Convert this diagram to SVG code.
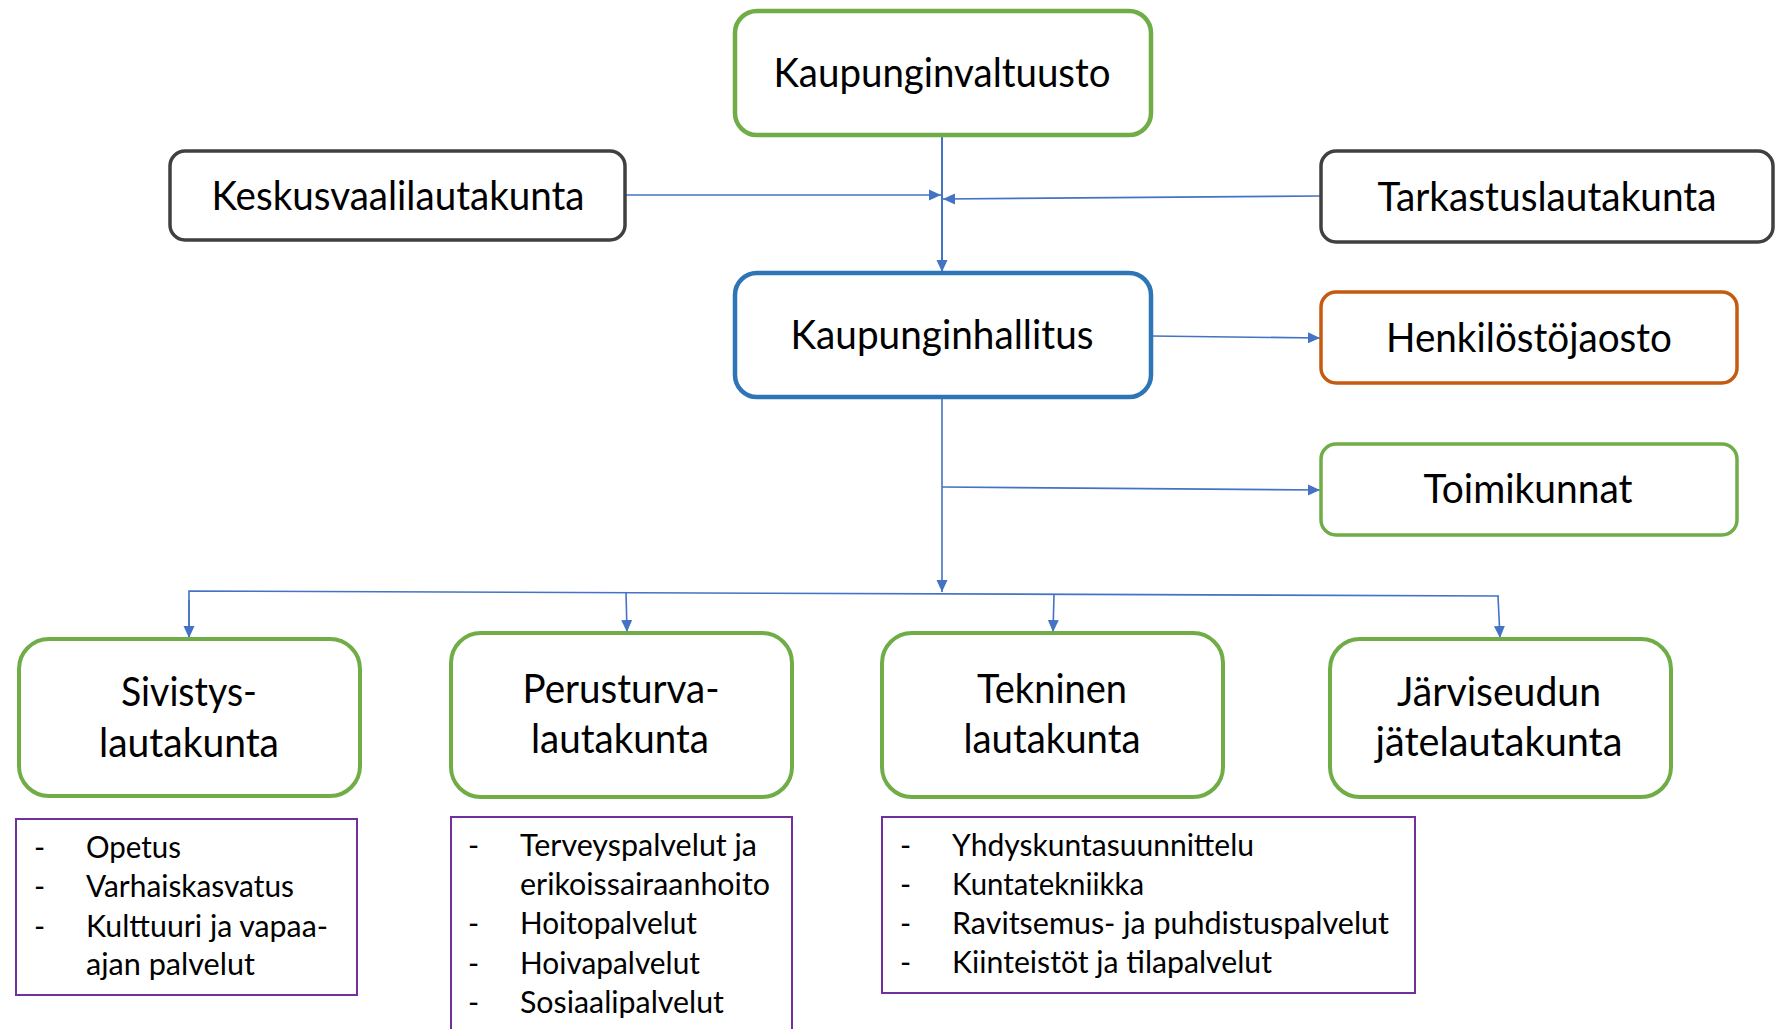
<svg xmlns="http://www.w3.org/2000/svg" width="1776" height="1029" viewBox="0 0 1776 1029">
<style>
.lbl{font-family:Lato,"Liberation Sans",sans-serif;font-size:40px;fill:#000;text-anchor:middle}
.li{font-family:Lato,"Liberation Sans",sans-serif;font-size:30px;fill:#000}
.box{fill:#fff}
.green{stroke:#70AD47;stroke-width:4}
.dark{stroke:#404040;stroke-width:3.5}
.blue{stroke:#2E75B6;stroke-width:4.5}
.orange{stroke:#C55A11;stroke-width:3.5}
.purple{fill:#fff;stroke:#7030A0;stroke-width:2}
.con{fill:none;stroke:#4472C4;stroke-width:1.6}
</style>
<defs>
<marker id="arr" viewBox="0 0 12 12" refX="12" refY="6" markerWidth="12" markerHeight="12" markerUnits="userSpaceOnUse" orient="auto">
<path d="M0,0.5 L12,6 L0,11.5 z" fill="#4472C4"/>
</marker>
</defs>
<rect width="1776" height="1029" fill="#fff"/>

<g id="connectors">
<line class="con" x1="942" y1="135" x2="942" y2="272" style="stroke-width:2" marker-end="url(#arr)"/>
<line class="con" x1="625" y1="195" x2="941" y2="195" marker-end="url(#arr)"/>
<line class="con" x1="1321" y1="196" x2="943" y2="199" marker-end="url(#arr)"/>
<line class="con" x1="1151" y1="336" x2="1320" y2="338" marker-end="url(#arr)"/>
<line class="con" x1="942" y1="396" x2="942" y2="592" marker-end="url(#arr)"/>
<line class="con" x1="942" y1="487" x2="1320" y2="490" marker-end="url(#arr)"/>
<polyline class="con" points="189,637 189,591 1499,596"/>
<line class="con" x1="189" y1="600" x2="189" y2="638" marker-end="url(#arr)"/>
<line class="con" x1="626" y1="592" x2="627" y2="632" marker-end="url(#arr)"/>
<line class="con" x1="1054" y1="595" x2="1053" y2="632" marker-end="url(#arr)"/>
<line class="con" x1="1498" y1="596" x2="1500" y2="638" marker-end="url(#arr)"/>
</g>

<g id="kaupunginvaltuusto">
<rect class="box green" x="735" y="11" width="416" height="124" rx="22" style="stroke-width:4.5"/>
<text class="lbl" x="942" y="87" textLength="337" lengthAdjust="spacingAndGlyphs">Kaupunginvaltuusto</text>
</g>
<g id="keskusvaalilautakunta">
<rect class="box dark" x="170" y="151" width="455" height="89" rx="15"/>
<text class="lbl" x="398" y="210" textLength="373" lengthAdjust="spacingAndGlyphs">Keskusvaalilautakunta</text>
</g>
<g id="tarkastuslautakunta">
<rect class="box dark" x="1321" y="151" width="452" height="91" rx="15"/>
<text class="lbl" x="1547" y="211" textLength="339" lengthAdjust="spacingAndGlyphs">Tarkastuslautakunta</text>
</g>
<g id="kaupunginhallitus">
<rect class="box blue" x="735" y="273" width="416" height="124" rx="22"/>
<text class="lbl" x="942" y="349" textLength="303" lengthAdjust="spacingAndGlyphs">Kaupunginhallitus</text>
</g>
<g id="henkilostojaosto">
<rect class="box orange" x="1321" y="292" width="416" height="91" rx="15"/>
<text class="lbl" x="1529" y="352" textLength="286" lengthAdjust="spacingAndGlyphs">Henkilöstöjaosto</text>
</g>
<g id="toimikunnat">
<rect class="box green" x="1321" y="444" width="416" height="91" rx="15" style="stroke-width:3.5"/>
<text class="lbl" x="1528" y="503" textLength="209" lengthAdjust="spacingAndGlyphs">Toimikunnat</text>
</g>

<g id="sivistyslautakunta">
<rect class="box green" x="19" y="639" width="341" height="157" rx="30"/>
<text class="lbl" x="189" y="706" textLength="136" lengthAdjust="spacingAndGlyphs">Sivistys-</text>
<text class="lbl" x="189" y="757" textLength="180" lengthAdjust="spacingAndGlyphs">lautakunta</text>
</g>
<g id="perusturvalautakunta">
<rect class="box green" x="451" y="633" width="341" height="164" rx="30"/>
<text class="lbl" x="621" y="703" textLength="197" lengthAdjust="spacingAndGlyphs">Perusturva-</text>
<text class="lbl" x="620" y="753" textLength="178" lengthAdjust="spacingAndGlyphs">lautakunta</text>
</g>
<g id="tekninenlautakunta">
<rect class="box green" x="882" y="633" width="341" height="164" rx="30"/>
<text class="lbl" x="1052" y="703" textLength="150" lengthAdjust="spacingAndGlyphs">Tekninen</text>
<text class="lbl" x="1052" y="753" textLength="177" lengthAdjust="spacingAndGlyphs">lautakunta</text>
</g>
<g id="jatelautakunta">
<rect class="box green" x="1330" y="639" width="341" height="158" rx="30"/>
<text class="lbl" x="1499" y="706" textLength="204" lengthAdjust="spacingAndGlyphs">Järviseudun</text>
<text class="lbl" x="1499" y="756" textLength="247" lengthAdjust="spacingAndGlyphs">jätelautakunta</text>
</g>

<g id="sivistys-lista">
<rect class="purple" x="16" y="819" width="341" height="176"/>
<text class="li" x="34" y="858">-</text>
<text class="li" x="86" y="858" textLength="95" lengthAdjust="spacingAndGlyphs">Opetus</text>
<text class="li" x="34" y="897">-</text>
<text class="li" x="86" y="897" textLength="208" lengthAdjust="spacingAndGlyphs">Varhaiskasvatus</text>
<text class="li" x="34" y="937">-</text>
<text class="li" x="86" y="937" textLength="242" lengthAdjust="spacingAndGlyphs">Kulttuuri ja vapaa-</text>
<text class="li" x="86" y="975" textLength="169" lengthAdjust="spacingAndGlyphs">ajan palvelut</text>
</g>
<g id="perusturva-lista">
<rect class="purple" x="451" y="817" width="341" height="230"/>
<text class="li" x="468" y="856">-</text>
<text class="li" x="520" y="856" textLength="237" lengthAdjust="spacingAndGlyphs">Terveyspalvelut ja</text>
<text class="li" x="520" y="895" textLength="250" lengthAdjust="spacingAndGlyphs">erikoissairaanhoito</text>
<text class="li" x="468" y="934">-</text>
<text class="li" x="520" y="934" textLength="177" lengthAdjust="spacingAndGlyphs">Hoitopalvelut</text>
<text class="li" x="468" y="974">-</text>
<text class="li" x="520" y="974" textLength="180" lengthAdjust="spacingAndGlyphs">Hoivapalvelut</text>
<text class="li" x="468" y="1013">-</text>
<text class="li" x="520" y="1013" textLength="204" lengthAdjust="spacingAndGlyphs">Sosiaalipalvelut</text>
</g>
<g id="tekninen-lista">
<rect class="purple" x="882" y="817" width="533" height="176"/>
<text class="li" x="900" y="856">-</text>
<text class="li" x="952" y="856" textLength="302" lengthAdjust="spacingAndGlyphs">Yhdyskuntasuunnittelu</text>
<text class="li" x="900" y="895">-</text>
<text class="li" x="952" y="895" textLength="192" lengthAdjust="spacingAndGlyphs">Kuntatekniikka</text>
<text class="li" x="900" y="934">-</text>
<text class="li" x="952" y="934" textLength="437" lengthAdjust="spacingAndGlyphs">Ravitsemus- ja puhdistuspalvelut</text>
<text class="li" x="900" y="973">-</text>
<text class="li" x="952" y="973" textLength="320" lengthAdjust="spacingAndGlyphs">Kiinteistöt ja tilapalvelut</text>
</g>
</svg>
